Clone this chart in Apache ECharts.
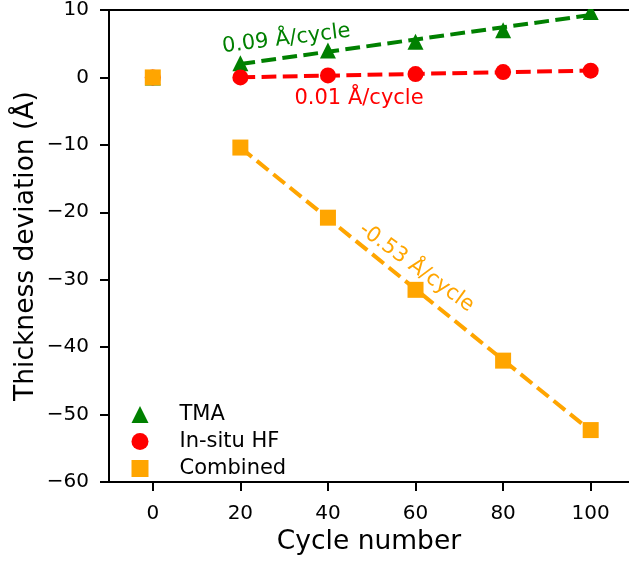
<!DOCTYPE html>
<html>
<head>
<meta charset="utf-8">
<script src="https://cdn.jsdelivr.net/npm/echarts@6/dist/echarts.min.js"></script>
<style>
  html, body { margin: 0; padding: 0; background: #fff; }
  #chart { width: 629px; height: 561px; }
</style>
</head>
<body>
<div id="chart"></div>
<script>
// Measured thickness deviation per cycle count
const cycles = [0, 20, 40, 60, 80, 100];
const tmaValues = [0, 2.1, 4.0, 5.3, 7.0, 9.7];
const hfValues = [0, 0.0, 0.3, 0.5, 0.8, 1.0];
const combinedValues = [0, -10.4, -20.8, -31.5, -42.0, -52.3];

// Linear trend lines, given at the first and last fitted cycle
const fitCycles = [20, 100];
const tmaFit = [2.0, 9.25];
const hfFit = [0.02, 1.02];
const combinedFit = [-10.4, -52.4];

const seriesNames = ['TMA', 'In-situ HF', 'Combined'];
const xTickValues = [0, 20, 40, 60, 80, 100];
const rateLabels = ['0.09 Å/cycle', '0.01 Å/cycle', '-0.53 Å/cycle'];

const FONT = '"DejaVu Sans", "Liberation Sans", sans-serif';
const GREEN = '#008000', RED = '#ff0000', ORANGE = '#ffa500';

// where each rate label sits (data coordinates) and its tilt in degrees
const rateLabelPlacement = [
  { at: [30.5, 5.7], angle: 7, color: GREEN },
  { at: [47.1, -3.2], angle: 0, color: RED },
  { at: [60.2, -28.2], angle: -36, color: ORANGE }
];

const X_MIN = -10, X_MAX = 108.75;

const pairs = (xs, ys) => xs.map((x, i) => [x, ys[i]]);

function fitLine(name, ys, color) {
  return {
    name: name + ' fit',
    type: 'line',
    data: pairs(fitCycles, ys),
    symbol: 'none',
    silent: true,
    z: 2,
    lineStyle: { color: color, width: 4, type: [14.8, 6.4] }
  };
}

function markers(name, ys, color, symbol, z) {
  return {
    name: name,
    type: 'scatter',
    data: pairs(cycles, ys),
    symbol: symbol,
    symbolSize: 16,
    z: z,
    clip: true,
    itemStyle: { color: color, opacity: 1 }
  };
}

const chart = echarts.init(document.getElementById('chart'), null, { renderer: 'canvas' });

const option = {
  animation: false,
  backgroundColor: '#fff',
  textStyle: { fontFamily: FONT },
  grid: { left: 109, top: 10, right: 0, bottom: 77 },
  xAxis: [{
    type: 'value',
    min: X_MIN, max: X_MAX,
    name: 'Cycle number',
    nameLocation: 'middle',
    nameGap: 47,
    nameMoveOverlap: false,
    nameTextStyle: { fontSize: 26.5, color: '#000', fontFamily: FONT },
    axisLine: { show: true, onZero: false, lineStyle: { color: '#000', width: 2 } },
    axisTick: { show: true, length: 9, lineStyle: { color: '#000', width: 2 }, customValues: xTickValues },
    axisLabel: { fontSize: 20, color: '#000', margin: 22, fontFamily: FONT, customValues: xTickValues },
    splitLine: { show: false }
  }, {
    // top frame line
    type: 'value',
    position: 'top',
    min: X_MIN, max: X_MAX,
    axisLine: { show: true, onZero: false, lineStyle: { color: '#000', width: 2 } },
    axisTick: { show: false },
    axisLabel: { show: false },
    splitLine: { show: false }
  }],
  yAxis: {
    type: 'value',
    min: -60, max: 10, interval: 10,
    name: 'Thickness deviation (Å)',
    nameLocation: 'middle',
    nameGap: 69,
    nameMoveOverlap: false,
    nameRotate: 90,
    nameTextStyle: { fontSize: 26.5, color: '#000', fontFamily: FONT },
    axisLine: { show: true, onZero: false, lineStyle: { color: '#000', width: 2 } },
    axisTick: { show: true, length: 9, lineStyle: { color: '#000', width: 2 } },
    axisLabel: {
      fontSize: 20, color: '#000', margin: 20, fontFamily: FONT,
      formatter: v => String(v).replace('-', '\u2212')
    },
    splitLine: { show: false }
  },
  legend: {
    data: seriesNames,
    orient: 'vertical',
    left: 131.5,
    top: 404,
    padding: 0,
    itemWidth: 17,
    itemHeight: 17,
    itemGap: 6,
    textStyle: { fontSize: 21, color: '#000', fontFamily: FONT, lineHeight: 17, padding: [0, 0, 0, 26] }
  },
  series: [
    fitLine(seriesNames[0], tmaFit, GREEN),
    fitLine(seriesNames[1], hfFit, RED),
    fitLine(seriesNames[2], combinedFit, ORANGE),
    markers(seriesNames[0], tmaValues, GREEN, 'triangle', 3),
    markers(seriesNames[1], hfValues, RED, 'circle', 4),
    markers(seriesNames[2], combinedValues, ORANGE, 'rect', 5)
  ]
};

chart.setOption(option);

// rate labels placed through the axes' own scales
const rect = chart.getModel().getComponent('grid', 0).coordinateSystem.getRect();
const texts = rateLabelPlacement.map((p, i) => {
  const [px, py] = chart.convertToPixel({ xAxisIndex: 0, yAxisIndex: 0 }, p.at);
  return {
    type: 'text',
    x: px, y: py,
    rotation: p.angle * Math.PI / 180,
    z: 10,
    style: {
      text: rateLabels[i],
      fill: p.color,
      font: '21px ' + FONT,
      align: 'center', verticalAlign: 'middle',
      textAlign: 'center', textVerticalAlign: 'middle'
    }
  };
});
// markers are cut at the top frame
texts.push({
  type: 'rect',
  z: 50,
  silent: true,
  shape: { x: rect.x, y: 0, width: rect.width + 10, height: rect.y - 1 },
  style: { fill: '#fff' }
});
chart.setOption({ graphic: texts });
</script>
</body>
</html>
